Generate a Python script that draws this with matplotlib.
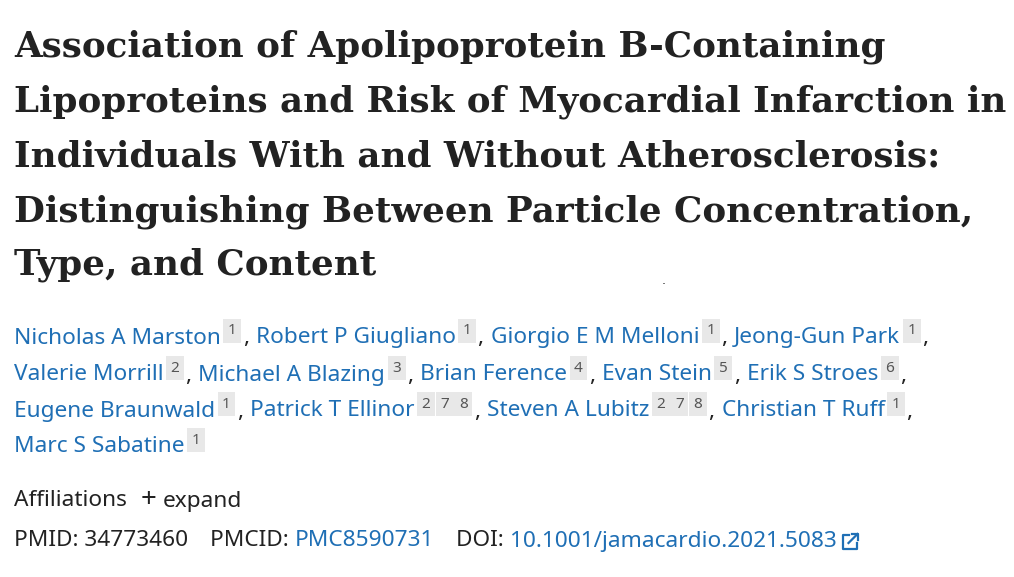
import matplotlib
matplotlib.use("Agg")
import matplotlib.pyplot as plt
from matplotlib.lines import Line2D

title_lines = [
    "Association of Apolipoprotein B-Containing",
    "Lipoproteins and Risk of Myocardial Infarction in",
    "Individuals With and Without Atherosclerosis:",
    "Distinguishing Between Particle Concentration,",
    "Type, and Content",
]
# each author line: list of (name, affiliation numbers)
author_lines = [
    [("Nicholas A Marston", ["1"]), ("Robert P Giugliano", ["1"]),
     ("Giorgio E M Melloni", ["1"]), ("Jeong-Gun Park", ["1"])],
    [("Valerie Morrill", ["2"]), ("Michael A Blazing", ["3"]), ("Brian Ference", ["4"]),
     ("Evan Stein", ["5"]), ("Erik S Stroes", ["6"])],
    [("Eugene Braunwald", ["1"]), ("Patrick T Ellinor", ["2", "7", "8"]),
     ("Steven A Lubitz", ["2", "7", "8"]), ("Christian T Ruff", ["1"])],
    [("Marc S Sabatine", ["1"])],
]
pmid = "34773460"
pmcid = "PMC8590731"
doi = "10.1001/jamacardio.2021.5083"

W, H = 1014, 577
fig = plt.figure(figsize=(W / 100, H / 100), dpi=100)
fig.patch.set_facecolor("white")
r = fig.canvas.get_renderer()
BLUE = "#1f6fb5"
DARK = "#222222"
FS = 16.3


def put(x, y, s, **kw):
    t = fig.text(x / W, 1 - y / H, s, va="center", ha="left", **kw)
    bb = t.get_window_extent(renderer=r)
    return x + bb.width


def seg(xs, ys):
    fig.add_artist(Line2D([v / W for v in xs], [1 - v / H for v in ys],
                          color=BLUE, lw=1.6, transform=fig.transFigure))


title_y = [47, 102, 157, 212, 265]
for y, line in zip(title_y, title_lines):
    put(14, y, line, fontsize=25.7, fontweight="bold", family="DejaVu Serif", color=DARK)
put(662, 280, ".", fontsize=9, color=DARK)

author_y = [338, 375, 411, 447]
sans = "Noto Sans"
for li, (y, line) in enumerate(zip(author_y, author_lines)):
    x = 14
    for ai, (name, affs) in enumerate(line):
        x = put(x, y, name, fontsize=FS, family=sans, color=BLUE)
        x += 7
        for a in affs:
            t = fig.text(x / W, 1 - (y - 7) / H, a, va="center", ha="left", fontsize=11,
                         family=sans, color="#555555",
                         bbox=dict(boxstyle="square,pad=0.3", fc="#e8e8e8", ec="none"))
            x += t.get_window_extent(renderer=r).width + 10
        last = li == len(author_lines) - 1 and ai == len(line) - 1
        if not last:
            x = put(x - 4, y, ",", fontsize=FS, family=sans, color=DARK)
            x += 7

x = put(14, 501, "Affiliations", fontsize=FS, family=sans, color=DARK)
x = put(x + 14, 500, "+", fontsize=20, family=sans, color=DARK)
put(x + 6, 501, "expand", fontsize=FS, family=sans, color=DARK)

x = put(14, 541, "PMID: " + pmid, fontsize=FS, family=sans, color=DARK)
x = put(x + 22, 541, "PMCID: ", fontsize=FS, family=sans, color=DARK)
x = put(x, 541, pmcid, fontsize=FS, family=sans, color=BLUE)
x = put(x + 22, 541, "DOI: ", fontsize=FS, family=sans, color=DARK)
x = put(x, 541, doi, fontsize=FS, family=sans, color=BLUE)

# external-link icon
x0, y0 = x + 6, 535
seg([x0 + 6, x0, x0, x0 + 14, x0 + 14], [y0, y0, y0 + 14, y0 + 14, y0 + 8])
seg([x0 + 9, x0 + 15, x0 + 15], [y0 - 1, y0 - 1, y0 + 5])
seg([x0 + 15, x0 + 6], [y0 - 1, y0 + 8])

fig.savefig("out.png", dpi=100)
